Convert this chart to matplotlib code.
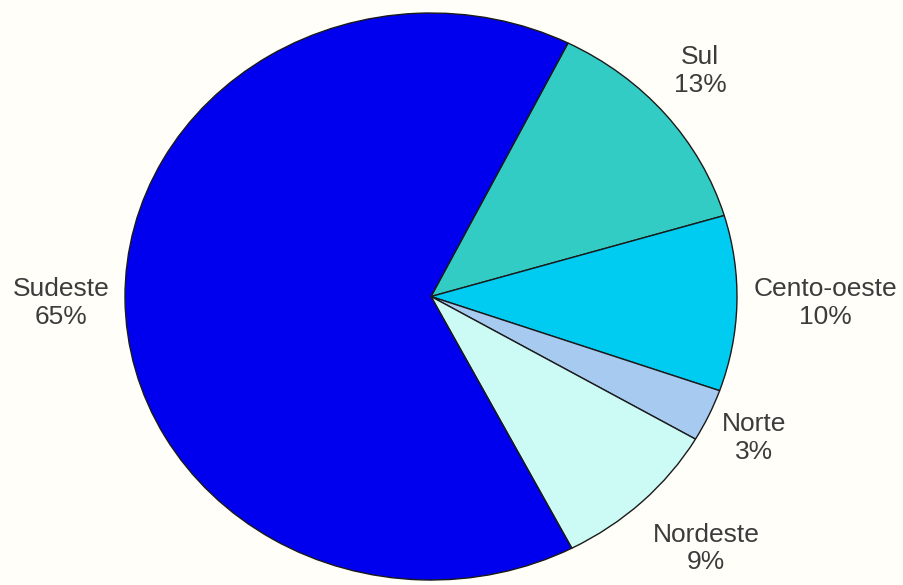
import numpy as np
import matplotlib
matplotlib.use("Agg")
import matplotlib.pyplot as plt

# Regional shares (%), drawn clockwise starting from Sul
regions = ["Sul", "Cento-oeste", "Norte", "Nordeste", "Sudeste"]
shares = [13, 10, 3, 9, 65]
pct_labels = ["13%", "10%", "3%", "9%", "65%"]

colors = ["#33CCC4", "#00CCF2", "#A6CAF0", "#CCFAF5", "#0000EE"]
# label placement: radial distance and angular nudge (deg) from wedge middle
label_dist = [1.185, 1.29, 1.168, 1.264, 1.21]
label_nudge = [2.1, 0.4, -0.5, 1.7, 0.7]

bg = "#FFFEF8"
fig = plt.figure(figsize=(9.04, 5.85), dpi=100, facecolor=bg)
ax = fig.add_axes([0, 0, 1, 1])
ax.set_facecolor(bg)

wedges, _ = ax.pie(
    shares,
    colors=colors,
    startangle=63.4,
    counterclock=False,
    wedgeprops=dict(edgecolor="#1a1a1a", linewidth=1.0),
)

for w, name, pct, r, dn in zip(wedges, regions, pct_labels, label_dist, label_nudge):
    mid = np.deg2rad((w.theta1 + w.theta2) / 2 + dn)
    ax.text(r * np.cos(mid), r * np.sin(mid), f"{name}\n{pct}",
            ha="center", va="center", fontsize=19, linespacing=1.2,
            color="#3c3c3c", family="Liberation Sans")

# Slightly stretched horizontally
ax.set_aspect("auto")
ax.set_xlim(-1.4085, 1.5458)
ax.set_ylim(-1.0176, 1.0459)
ax.axis("off")

fig.savefig("out.png", dpi=100, facecolor=bg)
